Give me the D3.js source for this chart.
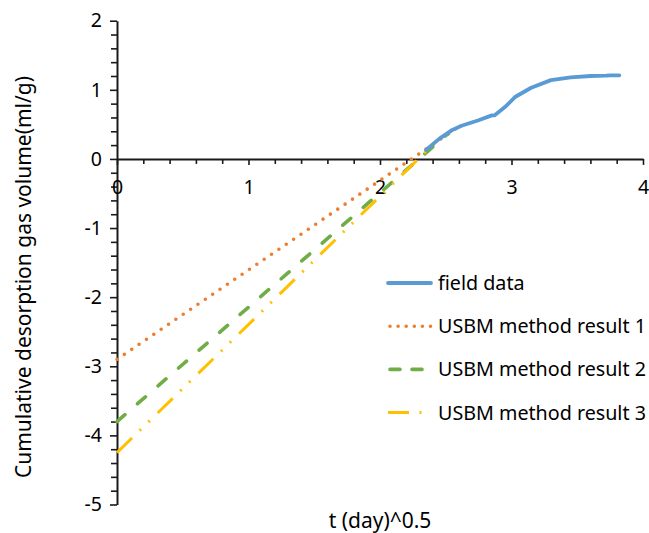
<!DOCTYPE html>
<html>
<head>
<meta charset="utf-8">
<script src="https://cdn.jsdelivr.net/npm/d3@7"></script>
<style>
  html, body { margin: 0; padding: 0; background: #fff; }
  svg { display: block; font-family: "Noto Sans", "Open Sans", sans-serif; }
</style>
</head>
<body>
<script>
// field measurements: sqrt(t) vs cumulative desorbed gas
const fieldT = [2.35, 2.45, 2.55, 2.62, 2.75, 2.85, 2.87, 2.95, 3.03, 3.15, 3.3, 3.45, 3.6, 3.72, 3.75, 3.82];
const fieldV = [0.13, 0.29, 0.42, 0.48, 0.56, 0.63, 0.63, 0.75, 0.9, 1.03, 1.14, 1.18, 1.2, 1.205, 1.21, 1.21];

// USBM fit lines: endpoints
const usbm1T = [0, 2.58];
const usbm1V = [-2.9, 0.44];
const usbm2T = [0, 2.52];
const usbm2V = [-3.8, 0.37];
const usbm3T = [0, 2.41];
const usbm3V = [-4.25, 0.22];

const seriesNames = ["field data", "USBM method result 1", "USBM method result 2", "USBM method result 3"];
const xTicks = [0, 1, 2, 3, 4];
const yTicks = [-5, -4, -3, -2, -1, 0, 1, 2];

const width = 649, height = 533;

const x = d3.scaleLinear().domain([0, 4]).range([117, 643]);
const y = d3.scaleLinear().domain([-5, 2]).range([504.5, 20.7]);

const svg = d3.select("body").append("svg")
  .attr("width", width)
  .attr("height", height)
  .attr("viewBox", [0, 0, width, height]);

const axisColor = "#1a1a1a";
const minor = (lo, hi) => d3.range(Math.round(lo * 5), Math.round(hi * 5) + 1)
  .map((k) => k / 5)
  .filter((v) => Math.abs(v - Math.round(v)) > 1e-6);

// y axis (left ticks)
svg.append("g")
  .attr("transform", `translate(${x(0)},0)`)
  .call(d3.axisLeft(y).tickValues(minor(-5, 2)).tickSize(6).tickFormat(""))
  .call((g) => g.select(".domain").remove())
  .call((g) => g.selectAll(".tick line").attr("stroke", axisColor).attr("stroke-width", 1.6));

svg.append("g")
  .attr("transform", `translate(${x(0)},0)`)
  .call(d3.axisLeft(y).tickValues(yTicks).tickSize(7).tickSizeOuter(0).tickPadding(8).tickFormat(d3.format("d")))
  .call((g) => g.select(".domain").attr("stroke", axisColor).attr("stroke-width", 2))
  .call((g) => g.selectAll(".tick line").attr("stroke", axisColor).attr("stroke-width", 1.6))
  .call((g) => g.selectAll(".tick text")
    .attr("fill", "#000").attr("font-size", 19.5).attr("font-family", "Noto Sans").text((d) => d < 0 ? "-" + (-d) : d));

// x axis at y = 0
svg.append("g")
  .attr("transform", `translate(0,${y(0)})`)
  .call(d3.axisBottom(x).tickValues(minor(0, 4)).tickSize(5).tickFormat(""))
  .call((g) => g.select(".domain").remove())
  .call((g) => g.selectAll(".tick line").attr("stroke", axisColor).attr("stroke-width", 1.6));

svg.append("g")
  .attr("transform", `translate(0,${y(0)})`)
  .call(d3.axisBottom(x).tickValues(xTicks).tickSize(6).tickSizeOuter(0).tickPadding(15).tickFormat(d3.format("d")))
  .call((g) => g.select(".domain").attr("stroke", axisColor).attr("stroke-width", 2))
  .call((g) => g.selectAll(".tick line").attr("stroke", axisColor).attr("stroke-width", 1.6))
  .call((g) => g.selectAll(".tick text").attr("fill", "#000").attr("font-size", 19.5).attr("font-family", "Noto Sans"));

const line = d3.line().x((d) => x(d[0])).y((d) => y(d[1]));

const series = [
  { name: seriesNames[1], pts: d3.zip(usbm1T, usbm1V), color: "#ED7D31", w: 3.6, dash: "0 8.9", cap: "round" },
  { name: seriesNames[2], pts: d3.zip(usbm2T, usbm2V), color: "#70AD47", w: 3.6, dash: "10.5 16.7", cap: "round" },
  { name: seriesNames[3], pts: d3.zip(usbm3T, usbm3V), color: "#FFC000", w: 3, dash: "21 10.5 2 10.3 2 11", cap: "butt" },
  { name: seriesNames[0], pts: d3.zip(fieldT, fieldV), color: "#5B9BD5", w: 3.8, dash: null, cap: "round" },
];

series.forEach((s) => {
  svg.append("path")
    .datum(s.pts)
    .attr("fill", "none")
    .attr("stroke", s.color)
    .attr("stroke-width", s.w)
    .attr("stroke-linecap", s.cap)
    .attr("stroke-linejoin", "round")
    .attr("stroke-dasharray", s.dash)
    .attr("d", line);
});

// legend
const legendOrder = [series[3], series[0], series[1], series[2]];
const lg = svg.append("g").attr("transform", "translate(388,283)");
legendOrder.forEach((s, i) => {
  const row = lg.append("g").attr("transform", `translate(0,${i * 43.2})`);
  row.append("line")
    .attr("x1", s.cap === "round" && s.dash ? 2 : 0).attr("x2", 43)
    .attr("stroke", s.color)
    .attr("stroke-width", s.w)
    .attr("stroke-linecap", s.cap)
    .attr("stroke-dasharray", s.dash === "0 8.9" ? "0 8.1" : s.dash === "10.5 16.7" ? "10 12" : s.dash === null ? null : "21 10.5 2 10.3");
  row.append("text")
    .attr("x", 50)
    .attr("dy", "0.35em")
    .attr("font-size", 19.7)
    .attr("fill", "#000")
    .text(s.name);
});

// axis titles
svg.append("text")
  .attr("transform", `translate(31,${277}) rotate(-90)`)
  .attr("text-anchor", "middle")
  .attr("font-size", 21)
  .attr("fill", "#000")
  .text("Cumulative desorption gas volume(ml/g)");

svg.append("text")
  .attr("x", 380)
  .attr("y", 528)
  .attr("text-anchor", "middle")
  .attr("font-size", 21)
  .attr("fill", "#000")
  .text("t (day)^0.5");
</script>
</body>
</html>
